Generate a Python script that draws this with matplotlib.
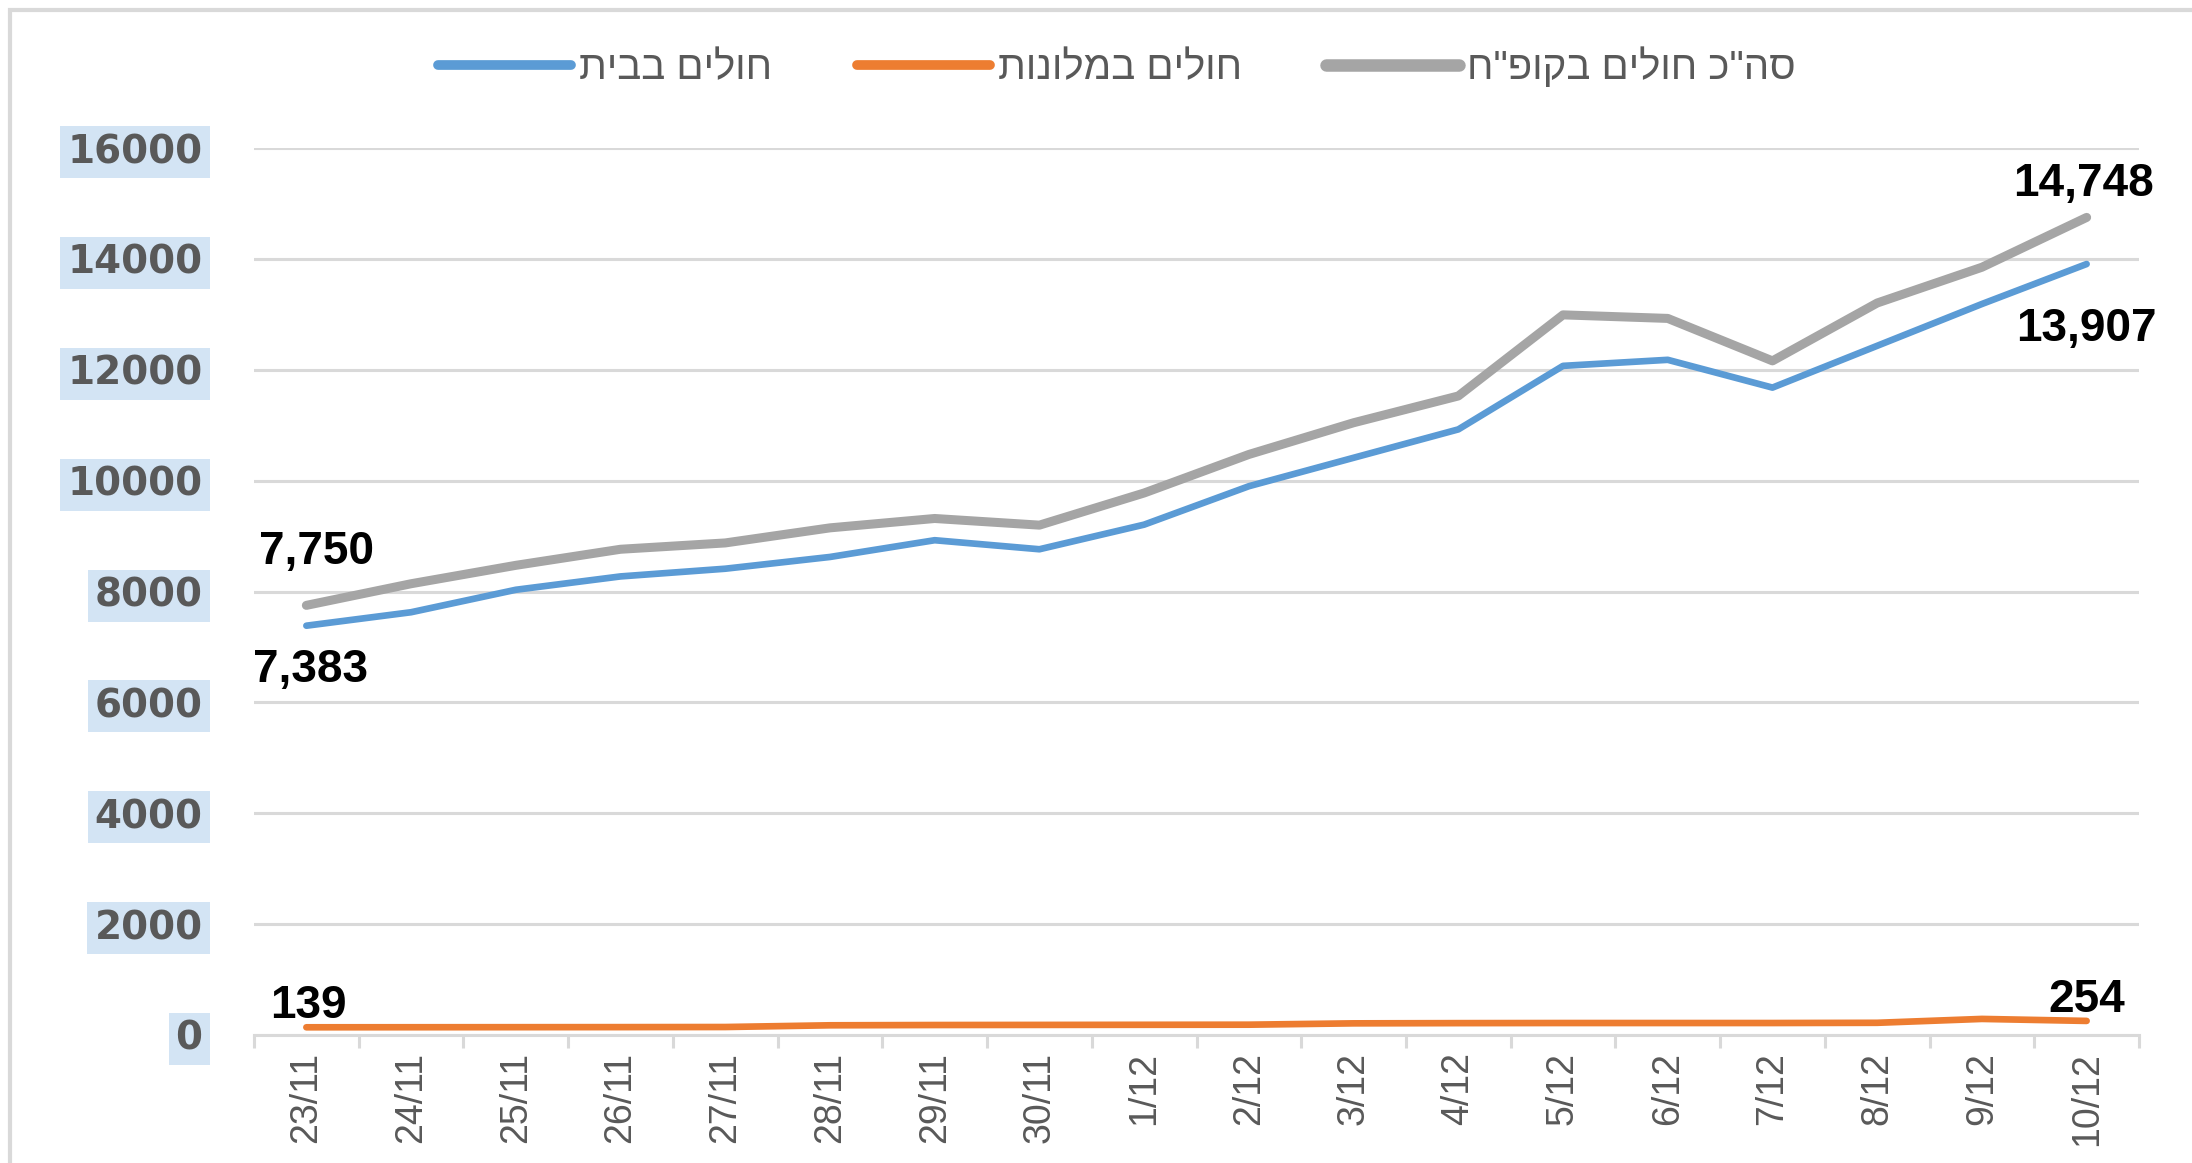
"""
Patients at home / in hotels / total, 23/11 - 10/12 (Excel-style line chart).
"""

import matplotlib
matplotlib.use('Agg')
import matplotlib.pyplot as plt
from matplotlib.patches import Rectangle

# data
dates = ['23/11', '24/11', '25/11', '26/11', '27/11', '28/11', '29/11', '30/11',
         '1/12', '2/12', '3/12', '4/12', '5/12', '6/12', '7/12', '8/12', '9/12', '10/12']
home = [7383, 7626, 8031, 8272, 8411, 8623, 8925, 8762,
        9206, 9899, 10412, 10924, 12070, 12179, 11678, 12432, 13186, 13907]
hotels = [139, 140, 141, 142, 144, 175, 180, 182,
          184, 186, 210, 214, 216, 216, 216, 220, 290, 254]
total = [7750, 8140, 8472, 8762, 8876, 9148, 9317, 9197,
         9777, 10472, 11044, 11527, 12990, 12926, 12160, 13204, 13849, 14748]
yticks = [0, 2000, 4000, 6000, 8000, 10000, 12000, 14000, 16000]

label_home = 'חולים בבית'
label_hotels = 'חולים במלונות'
label_total = 'סה"כ חולים בקופ"ח'

BLUE = '#5B9BD5'
ORANGE = '#ED7D31'
GRAY = '#A5A5A5'
GRID = '#D9D9D9'
TEXT = '#595959'


def rtl(s):
    # matplotlib has no bidi support, so hand it the visual order
    return s[::-1]


W, H = 2192, 1163
fig = plt.figure(figsize=(W / 100, H / 100), dpi=100)
ax = fig.add_axes([254 / W, 1 - 1035 / H, (2139 - 254) / W, (1035 - 148) / H])

x = list(range(len(dates)))
ax.plot(x, hotels, color=ORANGE, lw=4.8, solid_capstyle='round', label=rtl(label_hotels), zorder=3)
ax.plot(x, home, color=BLUE, lw=4.8, solid_capstyle='round', label=rtl(label_home), zorder=3)
ax.plot(x, total, color=GRAY, lw=6.5, solid_capstyle='round', label=rtl(label_total), zorder=3)

ax.set_xlim(-0.5, len(dates) - 0.5)
ax.set_ylim(0, 16000)

# axes styling
for side in ['top', 'right', 'left']:
    ax.spines[side].set_visible(False)
ax.spines['bottom'].set_color(GRID)
ax.spines['bottom'].set_linewidth(2.2)
ax.yaxis.grid(True, color=GRID, lw=2.2)
ax.set_axisbelow(True)

ax.set_yticks(yticks)
ax.set_yticklabels([str(v) for v in yticks], fontfamily='DejaVu Sans',
                   fontweight='bold', fontsize=28, color=TEXT)
ax.tick_params(axis='y', length=0, pad=37)
for t in ax.get_yticklabels():
    t.set_bbox(dict(facecolor='#D3E4F4', edgecolor='none', pad=5))

ax.set_xticks(x)
ax.set_xticklabels(dates, rotation=90, fontfamily='Liberation Sans',
                   fontsize=27, color=TEXT, va='top')
ax.tick_params(axis='x', which='major', length=0, pad=12)
ax.set_xticks([i - 0.5 for i in range(len(dates) + 1)], minor=True)
ax.tick_params(axis='x', which='minor', length=9, width=2.2, color=GRID)

# data labels at both ends
lab_font = dict(fontfamily='Liberation Sans', fontweight='bold', fontsize=33,
                color='black', ha='center', va='center')
first, last = 0, len(dates) - 1
ax.annotate(f'{total[first]:,}', (first, total[first]), xytext=(10, 53), textcoords='offset pixels', **lab_font)
ax.annotate(f'{home[first]:,}', (first, home[first]), xytext=(4, -44), textcoords='offset pixels', **lab_font)
ax.annotate(f'{hotels[first]:,}', (first, hotels[first]), xytext=(2, 21), textcoords='offset pixels', **lab_font)
ax.annotate(f'{total[last]:,}', (last, total[last]), xytext=(-3, 33), textcoords='offset pixels', **lab_font)
ax.annotate(f'{home[last]:,}', (last, home[last]), xytext=(0, -65), textcoords='offset pixels', **lab_font)
ax.annotate(f'{hotels[last]:,}', (last, hotels[last]), xytext=(0, 21), textcoords='offset pixels', **lab_font)

# legend: blue, orange, gray from left to right
handles, labels = ax.get_legend_handles_labels()
order = [1, 0, 2]
leg = fig.legend([handles[i] for i in order], [labels[i] for i in order],
                 loc='center', bbox_to_anchor=(1117 / W, 1 - 67 / H), ncol=3,
                 frameon=False, handlelength=3.3, handletextpad=0.2, columnspacing=2.1,
                 prop={'family': 'Liberation Sans', 'size': 29})
for txt in leg.get_texts():
    txt.set_color(TEXT)
for line, lw in zip(leg.get_lines(), [7, 7, 9]):
    line.set_linewidth(lw)
    line.set_solid_capstyle('round')

# chart frame, only top and left edges are visible in the crop
fig.add_artist(Rectangle((10 / W, -0.1), 1.2, 1 - 10 / H + 0.1, transform=fig.transFigure,
                         fill=False, edgecolor=GRID, lw=3))

fig.savefig('out.png', dpi=100)
